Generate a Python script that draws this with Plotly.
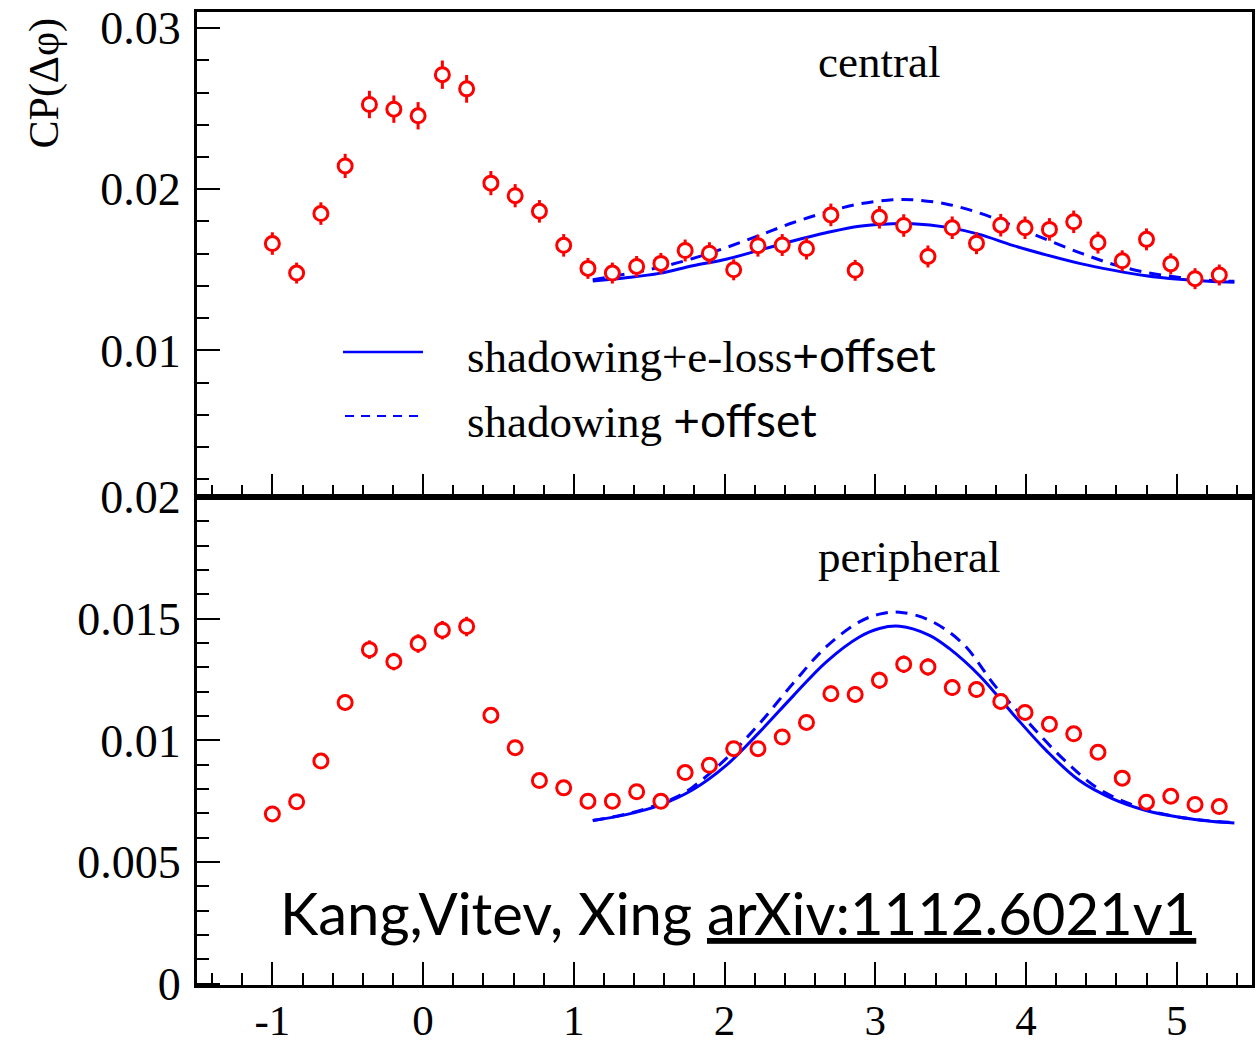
import plotly.graph_objects as go

# ---- data ----
dphi = [-1.000, -0.839, -0.678, -0.517, -0.356, -0.194, -0.033, 0.128, 0.289, 0.450,
        0.611, 0.772, 0.933, 1.094, 1.256, 1.417, 1.578, 1.739, 1.900, 2.061,
        2.222, 2.383, 2.544, 2.706, 2.867, 3.028, 3.189, 3.350, 3.511, 3.672,
        3.833, 3.994, 4.156, 4.317, 4.478, 4.639, 4.800, 4.961, 5.122, 5.283]

central = [0.01663, 0.01480, 0.01849, 0.02145, 0.02526, 0.02497, 0.02456, 0.02711, 0.02623, 0.02038,
           0.01960, 0.01863, 0.01652, 0.01509, 0.01480, 0.01521, 0.01540, 0.01620, 0.01603, 0.01500,
           0.01650, 0.01654, 0.01632, 0.01841, 0.01497, 0.01826, 0.01775, 0.01583, 0.01761, 0.01665,
           0.01777, 0.01761, 0.01751, 0.01798, 0.01669, 0.01556, 0.01689, 0.01537, 0.01445, 0.01468]
central_err = [0.00070, 0.00065, 0.00070, 0.00075, 0.00085, 0.00085, 0.00085, 0.00088, 0.00086, 0.00075,
               0.00072, 0.00070, 0.00070, 0.00065, 0.00065, 0.00065, 0.00065, 0.00068, 0.00068, 0.00065,
               0.00068, 0.00068, 0.00068, 0.00070, 0.00065, 0.00070, 0.00070, 0.00068, 0.00070, 0.00068,
               0.00070, 0.00070, 0.00070, 0.00070, 0.00068, 0.00065, 0.00068, 0.00065, 0.00065, 0.00065]

peripheral = [0.00698, 0.00748, 0.00915, 0.01156, 0.01373, 0.01324, 0.01398, 0.01453, 0.01468, 0.01103,
              0.00970, 0.00835, 0.00805, 0.00750, 0.00750, 0.00789, 0.00750, 0.00868, 0.00898, 0.00966,
              0.00966, 0.01014, 0.01074, 0.01192, 0.01189, 0.01247, 0.01313, 0.01302, 0.01217, 0.01209,
              0.01160, 0.01115, 0.01066, 0.01027, 0.00951, 0.00845, 0.00746, 0.00771, 0.00737, 0.00728]
peripheral_err = [0.00025, 0.00025, 0.00028, 0.00032, 0.00038, 0.00036, 0.00038, 0.00038, 0.00040, 0.00032,
                  0.00030, 0.00027, 0.00026, 0.00025, 0.00025, 0.00026, 0.00025, 0.00027, 0.00028, 0.00030,
                  0.00030, 0.00030, 0.00032, 0.00034, 0.00034, 0.00035, 0.00036, 0.00036, 0.00034, 0.00034,
                  0.00033, 0.00032, 0.00031, 0.00030, 0.00029, 0.00027, 0.00025, 0.00026, 0.00025, 0.00025]

curve_x = [1.126, 1.347, 1.568, 1.789, 2.011, 2.232, 2.453, 2.674, 2.895, 3.116,
           3.249, 3.470, 3.691, 3.912, 4.134, 4.355, 4.576, 4.797, 5.019, 5.240, 5.383]
cen_eloss = [0.01431, 0.01451, 0.01478, 0.01525, 0.01566, 0.01622, 0.01679, 0.01730, 0.01771, 0.01786,
             0.01786, 0.01765, 0.01720, 0.01652, 0.01593, 0.01540, 0.01498, 0.01463, 0.01441, 0.01427, 0.01423]
cen_shad = [0.01438, 0.01474, 0.01515, 0.01570, 0.01638, 0.01714, 0.01792, 0.01857, 0.01909, 0.01935,
            0.01935, 0.01909, 0.01853, 0.01775, 0.01689, 0.01607, 0.01535, 0.01484, 0.01453, 0.01433, 0.01429]

per_x_eloss = [1.126, 1.347, 1.568, 1.789, 2.011, 2.232, 2.453, 2.674, 2.895, 3.028, 3.161,
               3.360, 3.493, 3.691, 3.912, 4.134, 4.355, 4.576, 4.797, 5.019, 5.240, 5.383]
per_eloss = [0.00671, 0.00695, 0.00733, 0.00797, 0.00897, 0.01034, 0.01181, 0.01322, 0.01425, 0.01460, 0.01469,
             0.01432, 0.01377, 0.01267, 0.01110, 0.00959, 0.00835, 0.00760, 0.00712, 0.00684, 0.00667, 0.00661]
per_x_shad = [1.126, 1.347, 1.568, 1.679, 1.789, 2.011, 2.232, 2.453, 2.674, 2.895, 3.028, 3.161,
              3.360, 3.581, 3.802, 4.023, 4.245, 4.466, 4.687, 4.908, 5.130, 5.383]
per_shad = [0.00671, 0.00697, 0.00738, 0.00767, 0.00808, 0.00925, 0.01069, 0.01233, 0.01384, 0.01487, 0.01519, 0.01527,
            0.01494, 0.01398, 0.01219, 0.01069, 0.00925, 0.00808, 0.00740, 0.00698, 0.00675, 0.00662]

x_ticks = [-1, 0, 1, 2, 3, 4, 5]
x_ticktext = ["-1", "0", "1", "2", "3", "4", "5"]
top_ticks = [0.01, 0.02, 0.03]
top_ticktext = ["0.01", "0.02", "0.03"]
bot_ticks = [0, 0.005, 0.01, 0.015, 0.02]
bot_ticktext = ["0", "0.005", "0.01", "0.015", "0.02"]

RED = "#ff0000"
BLUE = "#0000ff"
SERIF = "Liberation Serif"
SANS = "Lato"

fig = go.Figure()


def data_trace(y, err, yaxis):
    return go.Scatter(
        x=dphi, y=y, mode="markers", xaxis="x" if yaxis == "y" else "x2", yaxis=yaxis,
        marker=dict(symbol="circle", size=14, color="white", line=dict(color=RED, width=3)),
        error_y=dict(type="data", array=err, color=RED, thickness=3, width=0),
        showlegend=False, hoverinfo="skip")


# top panel (central) -> x2/y2 ; bottom panel (peripheral) -> x/y
fig.add_trace(go.Scatter(x=curve_x, y=cen_shad, mode="lines", xaxis="x2", yaxis="y2",
                         line=dict(color=BLUE, width=3, dash="12px,8px", shape="spline"), showlegend=False))
fig.add_trace(go.Scatter(x=curve_x, y=cen_eloss, mode="lines", xaxis="x2", yaxis="y2",
                         line=dict(color=BLUE, width=3, shape="spline"), showlegend=False))
fig.add_trace(data_trace(central, central_err, "y2"))

fig.add_trace(go.Scatter(x=per_x_shad, y=per_shad, mode="lines", xaxis="x", yaxis="y",
                         line=dict(color=BLUE, width=3, dash="12px,8px", shape="spline"), showlegend=False))
fig.add_trace(go.Scatter(x=per_x_eloss, y=per_eloss, mode="lines", xaxis="x", yaxis="y",
                         line=dict(color=BLUE, width=3, shape="spline"), showlegend=False))
fig.add_trace(data_trace(peripheral, peripheral_err, "y"))

SPLIT = 0.5015
tickfont = dict(family=SERIF, size=46, color="black")
axis_common = dict(showline=True, linewidth=3, linecolor="black", mirror=True,
                   showgrid=False, zeroline=False, ticks="inside", tickwidth=2,
                   tickcolor="black", ticklen=23, automargin=False)

fig.update_layout(
    width=1258, height=1047,
    margin=dict(l=197, r=6, t=12, b=62),
    paper_bgcolor="white", plot_bgcolor="white",
    xaxis=dict(domain=[0, 1], range=[-1.5, 5.5], anchor="y",
               tickmode="array", tickvals=x_ticks, ticktext=x_ticktext,
               tickfont=dict(family=SERIF, size=43, color="black"),
               ticklabelstandoff=-5,
               minor=dict(tickmode="linear", tick0=0, dtick=0.2, ticks="inside", ticklen=12,
                          tickwidth=2, tickcolor="black"),
               **axis_common),
    yaxis=dict(domain=[0, SPLIT], range=[-0.00005, 0.02], anchor="x",
               tickmode="array", tickvals=bot_ticks, ticktext=bot_ticktext, tickfont=tickfont,
               ticklabelstandoff=4,
               minor=dict(tickmode="linear", tick0=0, dtick=0.001, ticks="inside", ticklen=12,
                          tickwidth=2, tickcolor="black"),
               **axis_common),
    xaxis2=dict(domain=[0, 1], range=[-1.5, 5.5], anchor="y2", matches="x",
                tickmode="array", tickvals=x_ticks, showticklabels=False,
                minor=dict(tickmode="linear", tick0=0, dtick=0.2, ticks="inside", ticklen=12,
                           tickwidth=2, tickcolor="black"),
                **axis_common),
    yaxis2=dict(domain=[SPLIT, 1], range=[0.0009, 0.031], anchor="x2",
                tickmode="array", tickvals=top_ticks, ticktext=top_ticktext, tickfont=tickfont,
                ticklabelstandoff=4,
                minor=dict(tickmode="linear", tick0=0, dtick=0.002, ticks="inside", ticklen=12,
                           tickwidth=2, tickcolor="black"),
                **axis_common),
)

# legend samples
fig.add_shape(type="line", xref="paper", yref="paper", x0=0.1384, x1=0.2142, y0=0.6506, y1=0.6506,
              line=dict(color=BLUE, width=2.5))
fig.add_shape(type="line", xref="paper", yref="paper", x0=0.1403, x1=0.2142, y0=0.5848, y1=0.5848,
              line=dict(color=BLUE, width=2, dash="9px,7px"))

ann = []
ann.append(dict(text="shadowing+e-loss<span style='font-family:Lato;font-size:46px'>+offset</span>",
                x=0.254, y=0.6475, xanchor="left", yanchor="middle",
                font=dict(family=SERIF, size=45, color="black")))
ann.append(dict(text="shadowing <span style='font-family:Lato;font-size:46px'>+offset</span>",
                x=0.254, y=0.5807, xanchor="left", yanchor="middle",
                font=dict(family=SERIF, size=45, color="black")))
ann.append(dict(text="central", x=0.5867, y=0.9486, xanchor="left", yanchor="middle",
                font=dict(family=SERIF, size=45, color="black")))
ann.append(dict(text="peripheral", x=0.5867, y=0.4399, xanchor="left", yanchor="middle",
                font=dict(family=SERIF, size=45, color="black")))
ann.append(dict(text="Kang,Vitev, Xing <span style='text-decoration:underline'>arXiv:1112.6021v1</span>",
                x=0.0768, y=0.075, xanchor="left", yanchor="middle",
                font=dict(family=SANS, size=58, color="black")))
ann.append(dict(text="CP(Δφ)", x=-0.1441, y=0.9969, xanchor="center", yanchor="top", textangle=-90,
                font=dict(family=SERIF, size=42, color="black")))
for a in ann:
    a.update(xref="paper", yref="paper", showarrow=False)
    fig.add_annotation(**a)

fig.write_html("out.html")
